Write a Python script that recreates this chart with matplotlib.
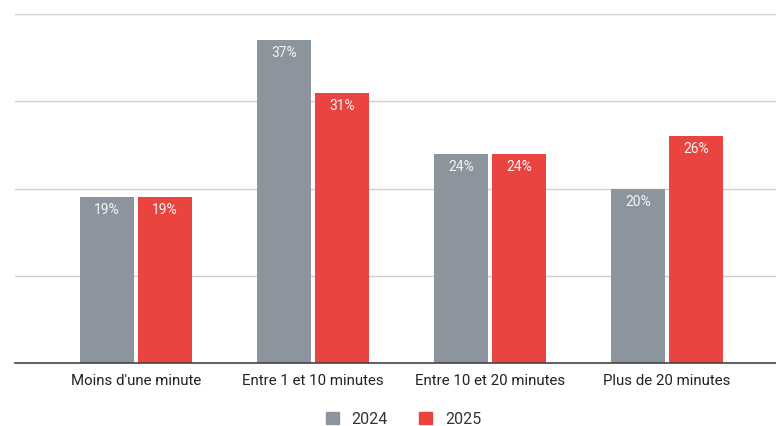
import matplotlib.pyplot as plt
import numpy as np
from matplotlib.patches import Patch

categories = ["Moins d'une minute", "Entre 1 et 10 minutes", "Entre 10 et 20 minutes", "Plus de 20 minutes"]
values_2024 = [19, 37, 24, 20]
values_2025 = [19, 31, 24, 26]
series_names = ["2024", "2025"]

GRAY = "#8c959d"
RED = "#ea4440"

plt.rcParams["font.family"] = ["Roboto", "DejaVu Sans"]

fig = plt.figure(figsize=(7.76, 4.26), dpi=100)
ax = fig.add_axes([15 / 776, 63 / 426, 761 / 776, 349 / 426])

x = np.arange(len(categories))
w = 0.305
off = 0.163
b1 = ax.bar(x - off, values_2024, w, color=GRAY, zorder=3)
b2 = ax.bar(x + off, values_2025, w, color=RED, zorder=3)

for bars, vals in ((b1, values_2024), (b2, values_2025)):
    for rect, v in zip(bars, vals):
        ax.text(rect.get_x() + rect.get_width() / 2, v - 0.7, f"{v}%",
                ha="center", va="top", color="#f4f4f4", fontsize=10, zorder=4)

ax.set_xlim(-0.684, 3.616)
ax.set_ylim(0, 40)
ax.set_yticks([0, 10, 20, 30, 40])
ax.set_yticklabels([])
ax.tick_params(axis="y", length=0)
ax.tick_params(axis="x", length=0, pad=8, labelsize=10.8, labelcolor="#222222")
ax.set_xticks(x)
ax.set_xticklabels(categories)
ax.grid(axis="y", color="#d0d0d0", linewidth=1, zorder=0)
for s in ("top", "right", "left"):
    ax.spines[s].set_visible(False)
ax.spines["bottom"].set_color("#444444")
ax.spines["bottom"].set_linewidth(1.2)
ax.spines["bottom"].set_zorder(5)

handles = [Patch(color=GRAY, label=series_names[0]), Patch(color=RED, label=series_names[1])]
fig.legend(handles=handles, loc="lower center", bbox_to_anchor=(0.52, -0.035), ncol=2,
           frameon=False, fontsize=11.5, handlelength=0.8, handleheight=0.8,
           columnspacing=2.0, handletextpad=0.8, labelcolor="#333333")

fig.savefig("out.png", dpi=100)
